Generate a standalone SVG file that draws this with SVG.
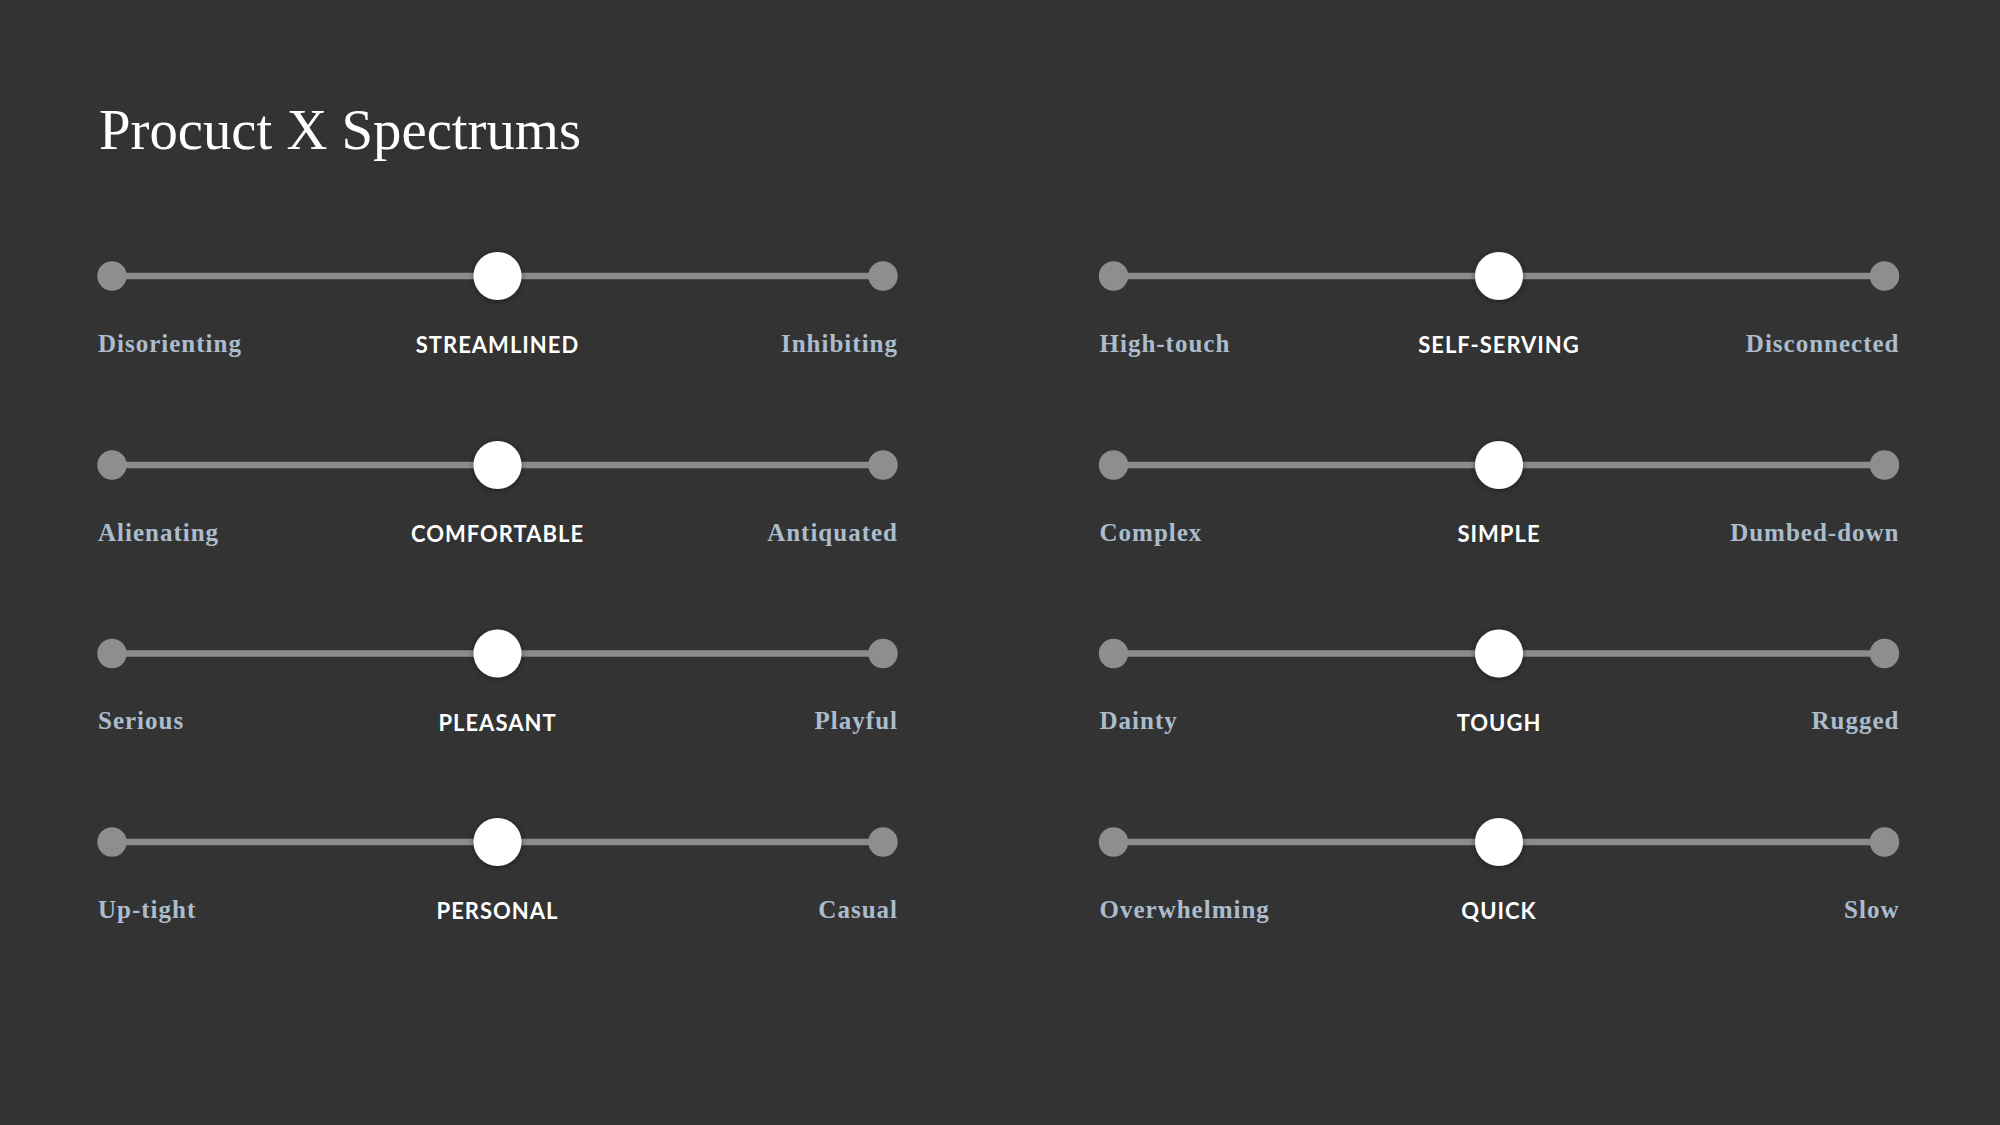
<svg xmlns="http://www.w3.org/2000/svg" width="2000" height="1125" viewBox="0 0 2000 1125">
  <defs>
    <filter id="sh" x="-50%" y="-50%" width="200%" height="200%">
      <feDropShadow dx="0" dy="1" stdDeviation="3" flood-color="#000" flood-opacity="0.45"/>
    </filter>
    <style>
      .title { font-family: "Liberation Serif", "DejaVu Serif", serif; font-size: 57px; fill: #ffffff; }
      .track { stroke: #8c8c8c; stroke-width: 6.5; }
      .end { fill: #8e8e8e; }
      .knob { fill: #ffffff; filter: url(#sh); }
      .side { font-family: "Liberation Serif", "DejaVu Serif", serif; font-weight: 700; font-size: 25px; letter-spacing: 1px; fill: #abbccd; }
      .mid { font-family: Lato, "Liberation Sans", sans-serif; font-weight: 700; font-size: 22px; letter-spacing: 1px; fill: #ffffff; text-anchor: middle; }
      .r { text-anchor: end; }
    </style>
  </defs>
  <rect width="2000" height="1125" fill="#333333"/>
  <text class="title" x="99" y="149" textLength="482" lengthAdjust="spacingAndGlyphs">Procuct X Spectrums</text>

  <g id="connectors">
    <line class="track" x1="112" y1="276" x2="883" y2="276"/>
    <line class="track" x1="112" y1="465" x2="883" y2="465"/>
    <line class="track" x1="112" y1="653.5" x2="883" y2="653.5"/>
    <line class="track" x1="112" y1="842" x2="883" y2="842"/>
    <line class="track" x1="1113.5" y1="276" x2="1884.5" y2="276"/>
    <line class="track" x1="1113.5" y1="465" x2="1884.5" y2="465"/>
    <line class="track" x1="1113.5" y1="653.5" x2="1884.5" y2="653.5"/>
    <line class="track" x1="1113.5" y1="842" x2="1884.5" y2="842"/>
  </g>

  <g id="slider-streamlined">
    <circle class="end" cx="112" cy="276" r="14.7"/>
    <circle class="end" cx="883" cy="276" r="14.7"/>
    <circle class="knob" cx="497.5" cy="276" r="24"/>
    <text class="side" x="98" y="351.5">Disorienting</text>
    <text class="mid" x="497.5" y="353">STREAMLINED</text>
    <text class="side r" x="898" y="351.5">Inhibiting</text>
  </g>
  <g id="slider-comfortable">
    <circle class="end" cx="112" cy="465" r="14.7"/>
    <circle class="end" cx="883" cy="465" r="14.7"/>
    <circle class="knob" cx="497.5" cy="465" r="24"/>
    <text class="side" x="98" y="540.5">Alienating</text>
    <text class="mid" x="497.5" y="542">COMFORTABLE</text>
    <text class="side r" x="898" y="540.5">Antiquated</text>
  </g>
  <g id="slider-pleasant">
    <circle class="end" cx="112" cy="653.5" r="14.7"/>
    <circle class="end" cx="883" cy="653.5" r="14.7"/>
    <circle class="knob" cx="497.5" cy="653.5" r="24"/>
    <text class="side" x="98" y="729">Serious</text>
    <text class="mid" x="497.5" y="730.5">PLEASANT</text>
    <text class="side r" x="898" y="729">Playful</text>
  </g>
  <g id="slider-personal">
    <circle class="end" cx="112" cy="842" r="14.7"/>
    <circle class="end" cx="883" cy="842" r="14.7"/>
    <circle class="knob" cx="497.5" cy="842" r="24"/>
    <text class="side" x="98" y="917.5">Up-tight</text>
    <text class="mid" x="497.5" y="919">PERSONAL</text>
    <text class="side r" x="898" y="917.5">Casual</text>
  </g>

  <g id="slider-self-serving">
    <circle class="end" cx="1113.5" cy="276" r="14.7"/>
    <circle class="end" cx="1884.5" cy="276" r="14.7"/>
    <circle class="knob" cx="1499" cy="276" r="24"/>
    <text class="side" x="1099.5" y="351.5">High-touch</text>
    <text class="mid" x="1499" y="353">SELF-SERVING</text>
    <text class="side r" x="1899.5" y="351.5">Disconnected</text>
  </g>
  <g id="slider-simple">
    <circle class="end" cx="1113.5" cy="465" r="14.7"/>
    <circle class="end" cx="1884.5" cy="465" r="14.7"/>
    <circle class="knob" cx="1499" cy="465" r="24"/>
    <text class="side" x="1099.5" y="540.5">Complex</text>
    <text class="mid" x="1499" y="542">SIMPLE</text>
    <text class="side r" x="1899.5" y="540.5">Dumbed-down</text>
  </g>
  <g id="slider-tough">
    <circle class="end" cx="1113.5" cy="653.5" r="14.7"/>
    <circle class="end" cx="1884.5" cy="653.5" r="14.7"/>
    <circle class="knob" cx="1499" cy="653.5" r="24"/>
    <text class="side" x="1099.5" y="729">Dainty</text>
    <text class="mid" x="1499" y="730.5">TOUGH</text>
    <text class="side r" x="1899.5" y="729">Rugged</text>
  </g>
  <g id="slider-quick">
    <circle class="end" cx="1113.5" cy="842" r="14.7"/>
    <circle class="end" cx="1884.5" cy="842" r="14.7"/>
    <circle class="knob" cx="1499" cy="842" r="24"/>
    <text class="side" x="1099.5" y="917.5">Overwhelming</text>
    <text class="mid" x="1499" y="919">QUICK</text>
    <text class="side r" x="1899.5" y="917.5">Slow</text>
  </g>
</svg>
